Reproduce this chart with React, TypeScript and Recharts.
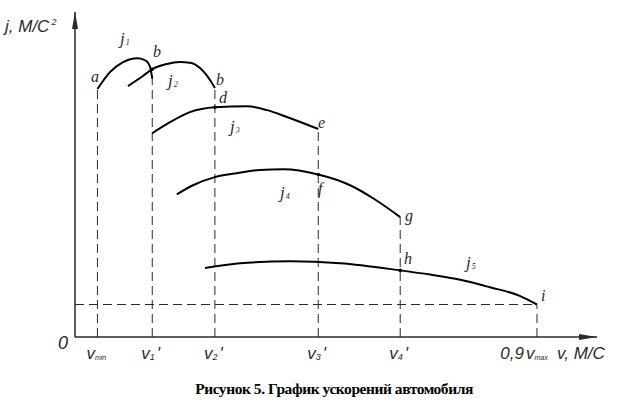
import React from "react";
import {
  LineChart,
  Line,
  XAxis,
  YAxis,
  ReferenceLine,
  ReferenceDot,
} from "recharts";

// speed ticks (arbitrary units) and their names
const speedTicks = [4.3, 14.8, 26.8, 46.6, 62.3, 88.5];
const speedSubs = ["min", "1", "2", "3", "4", "max"];
const speedPrimes = [false, true, true, true, true, false];

// acceleration curves per gear: [v, j]
const j1 = [
  [4.3, 7.63], [6.7, 8.15], [9.2, 8.46], [12.0, 8.58], [13.6, 8.5], [14.4, 8.3], [14.8, 7.95],
];
const j2 = [
  [10.15, 7.72], [13.0, 8.03], [14.8, 8.24], [17.6, 8.4], [20.1, 8.46], [22.0, 8.44],
  [24.0, 8.27], [25.9, 7.9], [26.8, 7.66],
];
const j3 = [
  [14.8, 6.27], [18.2, 6.61], [22.0, 6.92], [26.8, 7.07], [33.0, 7.1], [36.8, 6.98],
  [40.6, 6.77], [46.6, 6.4],
];
const j4 = [
  [19.5, 4.39], [22.6, 4.67], [26.8, 4.92], [31.0, 5.04], [35.4, 5.14], [40.0, 5.16],
  [46.6, 5.0], [52.7, 4.67], [57.1, 4.27], [62.3, 3.69],
];
const j5 = [
  [24.9, 2.12], [31.6, 2.27], [41.2, 2.33], [50.8, 2.27], [62.3, 2.05], [68.0, 1.92],
  [73.8, 1.76], [79.5, 1.53], [85.3, 1.26], [88.5, 1.0],
];
const curves = [j1, j2, j3, j4, j5];

// where each dashed drop line starts (j at that speed)
const dropTops = [7.63, 8.24, 7.66, 6.4, 3.69, 1.0];
const jLevel = 1.0;

// marked intersections b, d, f, h
const marks = [[14.8, 8.24], [26.8, 7.07], [46.6, 5.0], [62.3, 2.05]];

// letter labels: [text, v, j]
const letters: [string, number, number][] = [
  ["a", 3.07, 7.85],
  ["b", 14.94, 8.61],
  ["b", 27.01, 7.75],
  ["d", 27.59, 7.2],
  ["e", 46.55, 6.43],
  ["f", 46.55, 4.39],
  ["g", 63.22, 3.56],
  ["h", 63.03, 2.24],
  ["i", 89.27, 1.1],
];
// curve names: [subscript, v, j]
const curveNames: [string, number, number][] = [
  ["1", 8.62, 9.01],
  ["2", 17.82, 7.72],
  ["3", 29.69, 6.3],
  ["4", 39.27, 4.27],
  ["5", 74.9, 2.12],
];

const toRows = (pts: number[][]) => pts.map(([x, y]) => ({ x, y }));

const axisFont = "'Liberation Sans Narrow', 'Liberation Sans', sans-serif";
const serif = "'Liberation Serif', serif";
const ink = "#2a2a2a";

const SpeedTick = (props: any) => {
  const { x, y, index } = props;
  const sub = speedSubs[index];
  const base = y + 14;
  return (
    <g>
      {index === speedTicks.length - 1 && (
        <text x={x - 13} y={base} textAnchor="end" fontFamily={axisFont} fontStyle="italic" fontSize={17} fill={ink}>
          0,9
        </text>
      )}
      <text x={x - 11} y={base} fontFamily={axisFont} fontStyle="italic" fontSize={17} fill={ink}>
        v
        <tspan fontSize={sub.length > 1 ? 7 : 9} dy={1}>
          {sub}
        </tspan>
        {speedPrimes[index] && <tspan dy={-1} dx={2}>'</tspan>}
      </text>
    </g>
  );
};

export default function App() {
  return (
    <div style={{ position: "absolute", left: 0, top: 0, width: 624, height: 414, background: "#fff" }}>
      <LineChart
        width={624}
        height={414}
        margin={{ top: 12, right: 27, left: 65, bottom: 37 }}
      >
        <XAxis
          type="number"
          dataKey="x"
          domain={[0, 100]}
          ticks={speedTicks}
          tick={<SpeedTick />}
          tickLine={false}
          interval={0}
          height={40}
          axisLine={{ stroke: ink, strokeWidth: 1.5 }}
          allowDataOverflow
        />
        <YAxis
          type="number"
          dataKey="y"
          domain={[0, 10]}
          tick={false}
          tickLine={false}
          width={10}
          axisLine={{ stroke: ink, strokeWidth: 1.5 }}
          allowDataOverflow
        />
        <ReferenceLine
          segment={[{ x: 0, y: jLevel }, { x: speedTicks[5], y: jLevel }]}
          stroke={ink}
          strokeDasharray="9 5"
        />
        {speedTicks.map((v, i) => (
          <ReferenceLine
            key={"d" + i}
            segment={[{ x: v, y: 0 }, { x: v, y: dropTops[i] }]}
            stroke={ink}
            strokeDasharray="9 5"
          />
        ))}
        {curves.map((c, i) => (
          <Line
            key={"j" + i}
            data={toRows(c)}
            dataKey="y"
            type="monotone"
            stroke="#000"
            strokeWidth={2}
            dot={false}
            isAnimationActive={false}
          />
        ))}
        {marks.map(([x, y], i) => (
          <ReferenceDot key={"m" + i} x={x} y={y} r={1.8} fill="#000" stroke="none" />
        ))}
        {letters.map(([t, x, y], i) => (
          <ReferenceDot
            key={"l" + i}
            x={x}
            y={y}
            r={0}
            shape={(p: any) => (
              <text x={p.cx} y={p.cy} fontFamily={serif} fontStyle="italic" fontSize={16} fill={ink}>
                {t}
              </text>
            )}
          />
        ))}
        {curveNames.map(([s, x, y], i) => (
          <ReferenceDot
            key={"n" + i}
            x={x}
            y={y}
            r={0}
            shape={(p: any) => (
              <text x={p.cx} y={p.cy} fontFamily={serif} fontStyle="italic" fontSize={17} fill={ink}>
                j
                <tspan fontSize={8} dy={1} dx={1}>
                  {s}
                </tspan>
              </text>
            )}
          />
        ))}
        {/* axis arrow heads and names */}
        <ReferenceDot
          x={0}
          y={10}
          r={0}
          shape={(p: any) => (
            <g>
              <path d={`M${p.cx},${p.cy} L${p.cx - 3},${p.cy + 17} L${p.cx + 3},${p.cy + 17} Z`} fill={ink} />
              <text x={p.cx - 70} y={p.cy + 20} fontFamily={axisFont} fontStyle="italic" fontSize={17} fill={ink}>
                j, М/С
                <tspan fontSize={9} dy={-7} dx={2}>2</tspan>
              </text>
            </g>
          )}
        />
        <ReferenceDot
          x={100}
          y={0}
          r={0}
          shape={(p: any) => (
            <g>
              <path d={`M${p.cx},${p.cy} L${p.cx - 18},${p.cy - 3} L${p.cx - 18},${p.cy + 3} Z`} fill={ink} />
              <text x={p.cx - 40} y={p.cy + 22} fontFamily={axisFont} fontStyle="italic" fontSize={17} fill={ink}>
                v, М/С
              </text>
            </g>
          )}
        />
        <ReferenceDot
          x={0}
          y={0}
          r={0}
          shape={(p: any) => (
            <text x={p.cx - 17} y={p.cy + 12} fontFamily={axisFont} fontStyle="italic" fontSize={18} fill={ink}>
              0
            </text>
          )}
        />
      </LineChart>
      <div
        style={{
          position: "absolute",
          left: 0,
          top: 380,
          width: 668,
          textAlign: "center",
          fontFamily: serif,
          fontWeight: "bold",
          fontSize: 15.5,
          letterSpacing: -0.45,
          color: "#000",
        }}
      >
        Рисунок 5. График ускорений автомобиля
      </div>
    </div>
  );
}
